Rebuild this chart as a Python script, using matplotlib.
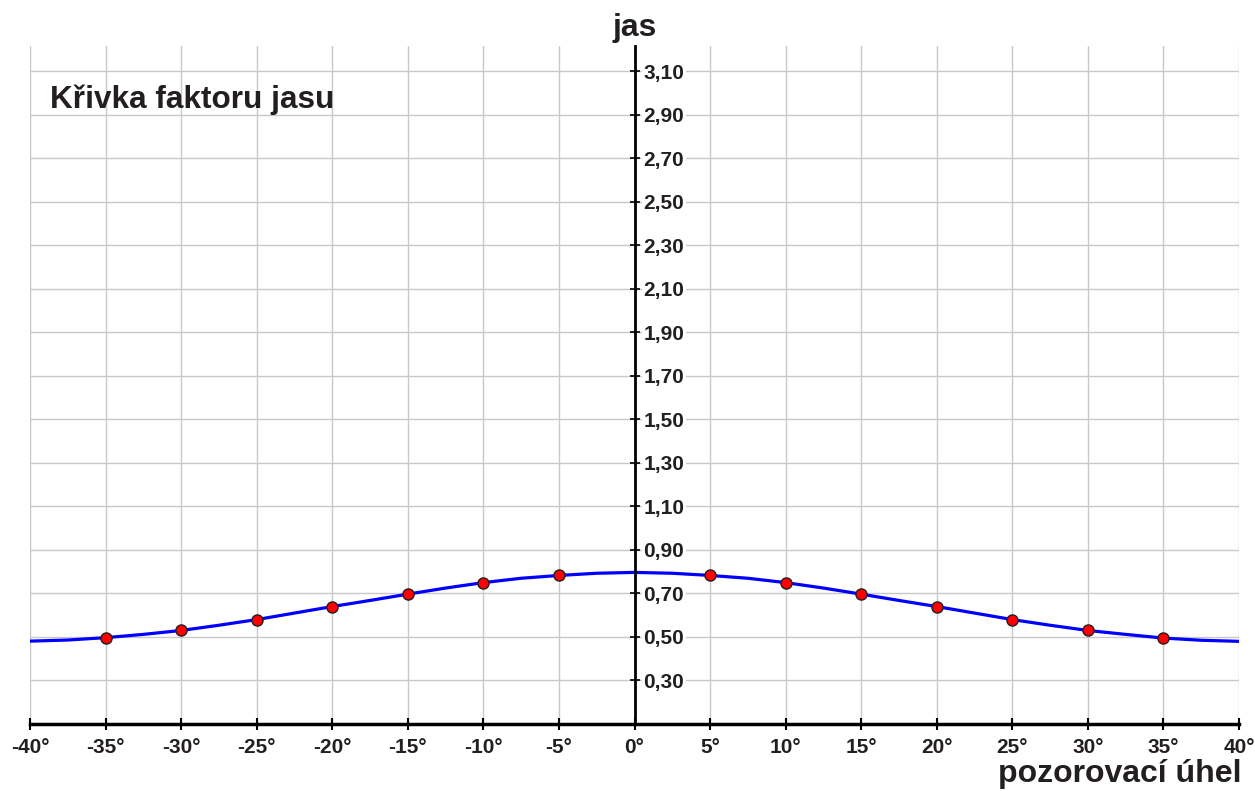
import numpy as np
import matplotlib.pyplot as plt

plt.rcParams['font.family'] = ['Liberation Sans', 'DejaVu Sans']

# curve (every 2.5 deg)
curve_x = [-40, -37.5, -35, -32.5, -30, -27.5, -25, -22.5, -20, -17.5, -15, -12.5, -10, -7.5, -5, -2.5, 0,
           2.5, 5, 7.5, 10, 12.5, 15, 17.5, 20, 22.5, 25, 27.5, 30, 32.5, 35, 37.5, 40]
curve_y = [0.481, 0.486, 0.497, 0.512, 0.530, 0.554, 0.580, 0.610, 0.640, 0.668, 0.697, 0.725, 0.750, 0.770, 0.783, 0.793, 0.797,
           0.793, 0.783, 0.770, 0.750, 0.725, 0.697, 0.668, 0.640, 0.610, 0.580, 0.554, 0.530, 0.512, 0.495, 0.485, 0.480]

# measured points
pts_x = [-35, -30, -25, -20, -15, -10, -5, 5, 10, 15, 20, 25, 30, 35]
pts_y = [0.497, 0.530, 0.580, 0.640, 0.697, 0.750, 0.783, 0.783, 0.750, 0.697, 0.640, 0.580, 0.530, 0.495]

xticks = list(range(-40, 41, 5))
yticks = [0.30, 0.50, 0.70, 0.90, 1.10, 1.30, 1.50, 1.70, 1.90, 2.10, 2.30, 2.50, 2.70, 2.90, 3.10]

txt = '#231f20'

fig = plt.figure(figsize=(12.55, 7.91), dpi=100)
ax = fig.add_axes([30/1255, 1-724/791, 1209/1255, 678/791])
ax.set_xlim(-40, 40)
ax.set_ylim(0.10, 3.217)

# grid
for x in xticks:
    if x != 0:
        ax.axvline(x, color='#c8c8c8', lw=1, zorder=0)
for y in yticks:
    ax.axhline(y, color='#c8c8c8', lw=1, zorder=0)

for s in ['top', 'left']:
    ax.spines[s].set_visible(False)
ax.spines['right'].set_position(('data', 0))
ax.spines['right'].set_linewidth(2)
ax.spines['bottom'].set_linewidth(2.5)
ax.spines['bottom'].set_zorder(5)
ax.spines['right'].set_zorder(5)

ax.yaxis.tick_right()
ax.set_yticks(yticks)
ax.set_yticklabels([f'{v:.2f}'.replace('.', ',') for v in yticks])
ax.tick_params(axis='y', direction='inout', length=7, width=1.2, pad=3,
               labelsize=15, labelcolor=txt)
for lab in ax.get_yticklabels():
    lab.set_fontweight('bold')
    lab.set_bbox(dict(facecolor='white', edgecolor='none', pad=1))

ax.set_xticks(xticks)
ax.set_xticklabels([f'{v}°' for v in xticks])
ax.tick_params(axis='x', direction='inout', length=8, width=1.5, pad=6,
               labelsize=15, labelcolor=txt)
for lab in ax.get_xticklabels():
    lab.set_fontweight('bold')

ax.plot(curve_x, curve_y, color='#0000ff', lw=2.3, zorder=3)
ax.plot(pts_x, pts_y, 'o', color='#ff0000', markeredgecolor='#231f20',
        markersize=8, markeredgewidth=1, zorder=4)

ax.text(-38.7, 2.97, 'Křivka faktoru jasu', fontsize=22.7, fontweight='bold',
        color=txt, va='center', ha='left')
fig.text(635/1255, 1-28/791, 'jas', fontsize=23, fontweight='bold',
         color=txt, ha='center', va='center')
fig.text(1241/1255, 1-774/791, 'pozorovací úhel', fontsize=23, fontweight='bold',
         color=txt, ha='right', va='center')

fig.savefig('out.png', dpi=100)
